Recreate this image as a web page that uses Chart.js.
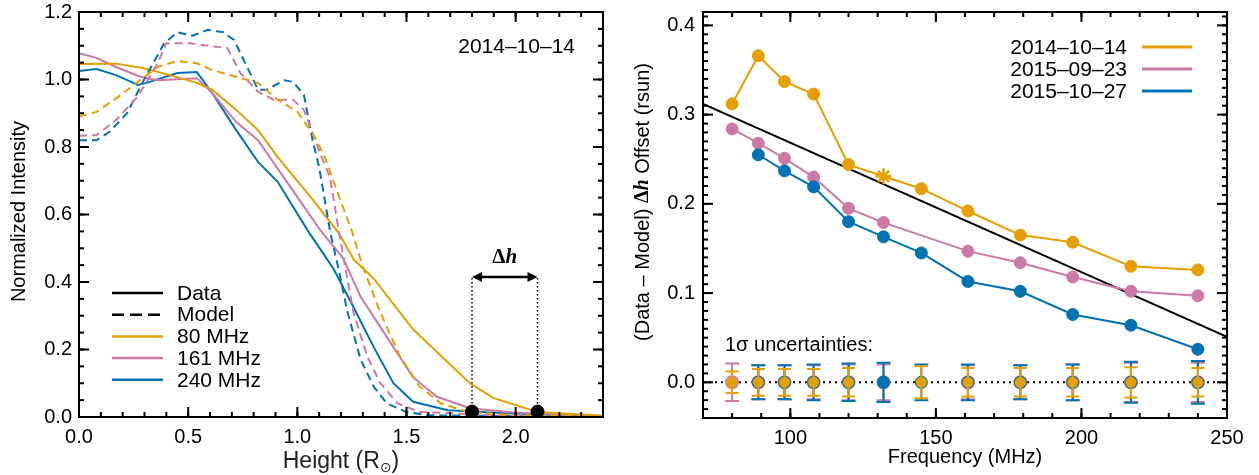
<!DOCTYPE html>
<html>
<head>
<meta charset="utf-8">
<script src="https://cdn.jsdelivr.net/npm/chart.js@4.4.1/dist/chart.umd.min.js"></script>
<style>
  body { margin: 0; background: #fff; }
  #left { position: absolute; left: 0; top: 0; }
  #right { position: absolute; left: 620px; top: 0; }
</style>
</head>
<body>
<canvas id="left" width="620" height="475"></canvas>
<canvas id="right" width="639" height="475"></canvas>
<script>
// ---- left panel: intensity profiles vs height ----
const leftXTicks = [0, 0.5, 1.0, 1.5, 2.0];
const leftYTicks = [0, 0.2, 0.4, 0.6, 0.8, 1.0, 1.2];

// observed (Data) profiles
const hData80 = [0, 0.17, 0.29, 0.40, 0.54, 0.61, 0.72, 0.82, 0.91, 1.07, 1.19, 1.26, 1.35, 1.53, 1.79, 1.90, 2.10, 2.40];
const iData80 = [1.046, 1.047, 1.034, 1.016, 0.99, 0.97, 0.91, 0.85, 0.77, 0.645, 0.545, 0.465, 0.41, 0.26, 0.10, 0.056, 0.015, 0.004];
const hData161 = [0, 0.08, 0.17, 0.28, 0.36, 0.54, 0.61, 0.72, 0.82, 1.105, 1.21, 1.29, 1.44, 1.53, 1.64, 1.79, 1.99, 2.40];
const iData161 = [1.078, 1.064, 1.037, 1.008, 0.998, 1.004, 0.96, 0.874, 0.82, 0.554, 0.47, 0.356, 0.207, 0.118, 0.06, 0.026, 0.013, 0.003];
const hData240 = [0, 0.08, 0.17, 0.27, 0.31, 0.45, 0.54, 0.61, 0.72, 0.82, 0.91, 1.05, 1.165, 1.257, 1.35, 1.44, 1.53, 1.69, 1.99, 2.40];
const iData240 = [1.025, 1.031, 1.013, 0.984, 0.99, 1.019, 1.022, 0.96, 0.85, 0.756, 0.697, 0.55, 0.44, 0.326, 0.207, 0.10, 0.045, 0.02, 0.01, 0.003];

// model profiles
const hModel80 = [0, 0.08, 0.17, 0.27, 0.36, 0.45, 0.54, 0.61, 0.72, 0.82, 0.91, 1.0, 1.07, 1.12, 1.165, 1.25, 1.30, 1.38, 1.47, 1.56, 1.66, 1.78, 2.0, 2.4];
const iModel80 = [0.89, 0.904, 0.944, 0.993, 1.037, 1.055, 1.048, 1.028, 1.008, 0.99, 0.94, 0.905, 0.84, 0.78, 0.70, 0.55, 0.445, 0.31, 0.18, 0.09, 0.04, 0.015, 0.005, 0.002];
const hModel161 = [0, 0.08, 0.17, 0.27, 0.36, 0.40, 0.50, 0.59, 0.68, 0.74, 0.82, 0.89, 0.98, 1.03, 1.105, 1.15, 1.19, 1.257, 1.32, 1.38, 1.46, 1.56, 2.0, 2.4];
const iModel161 = [0.833, 0.835, 0.88, 0.95, 1.048, 1.107, 1.108, 1.10, 1.093, 1.018, 0.964, 0.94, 0.94, 0.91, 0.78, 0.71, 0.55, 0.31, 0.18, 0.10, 0.04, 0.015, 0.003, 0.001];
const hModel240 = [0, 0.08, 0.14, 0.22, 0.29, 0.39, 0.45, 0.52, 0.59, 0.66, 0.71, 0.77, 0.82, 0.86, 0.94, 0.98, 1.03, 1.07, 1.10, 1.15, 1.19, 1.23, 1.29, 1.35, 1.41, 1.50, 1.60, 2.4];
const iModel240 = [0.82, 0.82, 0.845, 0.90, 0.99, 1.107, 1.14, 1.13, 1.147, 1.14, 1.117, 1.037, 0.97, 0.97, 0.998, 0.993, 0.955, 0.82, 0.74, 0.55, 0.435, 0.31, 0.17, 0.09, 0.04, 0.015, 0.005, 0.0];

// onset heights marking the offset (dots, dotted lines, arrow)
const onsetHeights = [1.8, 2.1];
const onsetLevel = 0.016;
const arrowLevel = 0.415;

// ---- right panel: offset vs frequency ----
const rightXTicks = [100, 150, 200, 250];
const rightYTicks = [0, 0.1, 0.2, 0.3, 0.4];
const dates = ['2014–10–14', '2015–09–23', '2015–10–27'];
const freqs = [80, 89, 98, 108, 120, 132, 145, 161, 179, 197, 217, 240];
const offset20141014 = [0.312, 0.366, 0.337, 0.323, 0.244, 0.231, 0.217, 0.192, 0.165, 0.157, 0.130, 0.126];
const offset20150923 = [0.284, 0.268, 0.251, 0.230, 0.195, 0.179, null, 0.147, 0.134, 0.118, 0.102, 0.097];
const offset20151027 = [null, 0.255, 0.237, 0.219, 0.180, 0.163, 0.145, 0.113, 0.102, 0.076, 0.064, 0.037];
const err20141014 = [0.012, 0.015, 0.015, 0.015, 0.016, null, 0.018, 0.016, 0.016, 0.016, 0.017, 0.016];
const err20150923 = [0.021, 0.019, 0.019, 0.019, 0.020, 0.020, null, 0.019, 0.019, 0.020, 0.022, 0.022];
const err20151027 = [null, 0.019, 0.019, 0.020, 0.021, 0.022, 0.020, 0.020, 0.019, 0.020, 0.023, 0.024];
const starFreq = 132; // 2014-10-14 point drawn as asterisk
const fitFreq = [70, 250];
const fitOffset = [0.312, 0.051];

const cOrange = '#E69F00', cPink = '#CC79A7', cBlue = '#0072B2';
const sans = "'Liberation Sans', Arial, Helvetica, sans-serif";
const serif = "'Liberation Serif', 'Times New Roman', serif";

function pts(xs, ys) { return xs.map((x, i) => ({ x: x, y: ys[i] })); }

function curve(xs, ys, color, dashed) {
  return { data: pts(xs, ys), showLine: true, borderColor: color, borderWidth: 2,
           borderDash: dashed ? [8, 5] : [], pointRadius: 0, tension: 0 };
}

// draws a line of text made of parts with different fonts, centred on (cx, cy)
function drawRich(ctx, parts, cx, cy) {
  let w = 0;
  parts.forEach(p => { ctx.font = p.f; w += ctx.measureText(p.t).width; });
  let x = cx - w / 2;
  parts.forEach(p => {
    ctx.font = p.f;
    ctx.fillText(p.t, x, cy + (p.dy || 0));
    x += ctx.measureText(p.t).width;
  });
}

// IDL-style box with inward ticks on all four sides
const boxTicks = {
  id: 'boxTicks',
  afterDraw(chart, args, o) {
    const { ctx, chartArea: a, scales: { x, y } } = chart;
    ctx.save();
    ctx.strokeStyle = '#000';
    ctx.lineWidth = 2;
    const seg = (x1, y1, x2, y2) => { ctx.beginPath(); ctx.moveTo(x1, y1); ctx.lineTo(x2, y2); ctx.stroke(); };
    const steps = (min, max, step) => {
      const n = Math.round((max - min) / step), out = [];
      for (let i = 0; i <= n; i++) out.push(min + i * step);
      return out;
    };
    const xt = (v, len) => { const p = x.getPixelForValue(v); seg(p, a.bottom, p, a.bottom - len); seg(p, a.top, p, a.top + len); };
    const yt = (v, len) => { const p = y.getPixelForValue(v); seg(a.left, p, a.left + len, p); seg(a.right, p, a.right - len, p); };
    steps(o.xMinorFrom, x.max, o.xMinor).forEach(v => xt(v, 5));
    steps(o.yMinorFrom, y.max, o.yMinor).forEach(v => yt(v, 5));
    x.ticks.forEach(t => xt(t.value, 10));
    y.ticks.forEach(t => yt(t.value, 10));
    ctx.strokeRect(a.left, a.top, a.width, a.height);
    ctx.restore();
  }
};

const errorBars = {
  id: 'errorBars',
  beforeDatasetDraw(chart, args) {
    const ds = chart.data.datasets[args.index];
    if (!ds.errors) return;
    const y = chart.scales.y, ctx = chart.ctx;
    ctx.save();
    ctx.strokeStyle = ds.borderColor;
    ctx.lineWidth = 2;
    args.meta.data.forEach((pt, j) => {
      const top = y.getPixelForValue(ds.errors[j]), bot = y.getPixelForValue(-ds.errors[j]);
      ctx.beginPath();
      ctx.moveTo(pt.x, top); ctx.lineTo(pt.x, bot);
      ctx.moveTo(pt.x - ds.capHalf, top); ctx.lineTo(pt.x + ds.capHalf, top);
      ctx.moveTo(pt.x - ds.capHalf, bot); ctx.lineTo(pt.x + ds.capHalf, bot);
      ctx.stroke();
    });
    ctx.restore();
  }
};

function axisOpts(min, max, tickList, digits, size, pad, horizontal) {
  return {
    type: 'linear', min: min, max: max,
    afterBuildTicks: s => { s.ticks = tickList.map(v => ({ value: v })); },
    afterFit: s => {
      if (horizontal) s.height = size; else s.width = size;
      s.paddingLeft = s.paddingRight = s.paddingTop = s.paddingBottom = 0;
    },
    grid: { display: false, drawTicks: false },
    border: { display: false },
    ticks: { padding: pad, autoSkip: false, maxRotation: 0, color: '#000',
             font: { family: sans, size: 20 }, callback: v => v.toFixed(digits) }
  };
}

// ---- left chart ----
const leftLegend = [
  { label: 'Data', color: '#000', dash: [] },
  { label: 'Model', color: '#000', dash: [12, 6] },
  { label: '80 MHz', color: cOrange, dash: [] },
  { label: '161 MHz', color: cPink, dash: [] },
  { label: '240 MHz', color: cBlue, dash: [] }
];

const leftDecor = {
  id: 'leftDecor',
  afterDraw(chart) {
    const { ctx, scales: { x, y } } = chart;
    ctx.save();
    ctx.fillStyle = '#000';
    ctx.strokeStyle = '#000';
    // dotted verticals and the offset arrow
    const x1 = x.getPixelForValue(onsetHeights[0]), x2 = x.getPixelForValue(onsetHeights[1]);
    const ya = y.getPixelForValue(arrowLevel), yd = y.getPixelForValue(onsetLevel);
    ctx.lineWidth = 1.5;
    ctx.setLineDash([1.5, 2.5]);
    [x1, x2].forEach(px => { ctx.beginPath(); ctx.moveTo(px, yd); ctx.lineTo(px, ya); ctx.stroke(); });
    ctx.setLineDash([]);
    ctx.lineWidth = 2.5;
    ctx.beginPath(); ctx.moveTo(x1 + 6, ya); ctx.lineTo(x2 - 6, ya); ctx.stroke();
    [[x1, 1], [x2, -1]].forEach(([px, d]) => {
      ctx.beginPath(); ctx.moveTo(px, ya); ctx.lineTo(px + 10 * d, ya - 5); ctx.lineTo(px + 10 * d, ya + 5); ctx.closePath(); ctx.fill();
    });
    ctx.textBaseline = 'middle';
    drawRich(ctx, [{ t: 'Δ', f: 'bold 21px ' + serif }, { t: 'h', f: 'bold italic 21px ' + serif }],
             (x1 + x2) / 2, ya - 19);
    // date
    ctx.font = '21px ' + sans;
    ctx.textAlign = 'right';
    ctx.fillText(dates[0], 575, 47);
    // legend
    ctx.textAlign = 'left';
    leftLegend.forEach((e, i) => {
      const ly = 293 + i * 21.7;
      ctx.strokeStyle = e.color;
      ctx.lineWidth = 2.5;
      ctx.setLineDash(e.dash);
      ctx.beginPath(); ctx.moveTo(112, ly); ctx.lineTo(163, ly); ctx.stroke();
      ctx.setLineDash([]);
      ctx.fillStyle = '#000';
      ctx.font = '21px ' + sans;
      ctx.fillText(e.label, 177, ly + 1);
    });
    // axis titles
    ctx.fillStyle = '#222';
    ctx.textBaseline = 'alphabetic';
    drawRich(ctx, [{ t: 'Height (R', f: '23px ' + sans },
                   { t: '⊙', f: '14px "DejaVu Sans"', dy: 4 },
                   { t: ')', f: '23px ' + sans }], (x.left + x.right) / 2, 468);
    ctx.fillStyle = '#000';
    ctx.translate(19, (y.top + y.bottom) / 2 - 3);
    ctx.rotate(-Math.PI / 2);
    ctx.textBaseline = 'middle';
    drawRich(ctx, [{ t: 'Normalized Intensity', f: '20px ' + sans }], 0, 0);
    ctx.restore();
  }
};

new Chart(document.getElementById('left'), {
  type: 'scatter',
  data: {
    datasets: [
      curve(hModel80, iModel80, cOrange, true),
      curve(hModel161, iModel161, cPink, true),
      curve(hModel240, iModel240, cBlue, true),
      curve(hData80, iData80, cOrange, false),
      curve(hData161, iData161, cPink, false),
      curve(hData240, iData240, cBlue, false),
      { data: onsetHeights.map(h => ({ x: h, y: onsetLevel })), pointRadius: 6.5,
        backgroundColor: '#000', borderColor: '#000', showLine: false, order: -1 }
    ]
  },
  options: {
    responsive: false,
    animation: false,
    layout: { padding: { top: 12, right: 17, left: 0, bottom: 0 } },
    plugins: {
      legend: { display: false },
      tooltip: { enabled: false },
      boxTicks: { xMinor: 0.1, xMinorFrom: 0, yMinor: 0.05, yMinorFrom: 0 }
    },
    scales: {
      x: axisOpts(0, 2.4, leftXTicks, 1, 58, 8, true),
      y: axisOpts(0, 1.2, leftYTicks, 1, 79, 7, false)
    }
  },
  plugins: [boxTicks, leftDecor]
});

// ---- right chart ----
function offsetSeries(vals, color, order) {
  return {
    data: pts(freqs, vals), showLine: true, spanGaps: true,
    borderColor: color, backgroundColor: color, borderWidth: 2,
    pointStyle: color === cOrange ? freqs.map(f => f === starFreq ? 'star' : 'circle') : 'circle',
    pointRadius: color === cOrange ? freqs.map(f => f === starFreq ? 8 : 6) : 6,
    pointBorderWidth: color === cOrange ? freqs.map(f => f === starFreq ? 2.5 : 1) : 1,
    order: order
  };
}

function errSeries(errs, color, r, cap, order) {
  const idx = freqs.map((f, i) => i).filter(i => errs[i] != null);
  return {
    data: idx.map(i => ({ x: freqs[i], y: 0 })), errors: idx.map(i => errs[i]), capHalf: cap,
    pointRadius: r, pointBorderWidth: 0, backgroundColor: color, borderColor: color,
    showLine: false, order: order
  };
}

const rightDecor = {
  id: 'rightDecor',
  afterDraw(chart) {
    const { ctx, scales: { x, y } } = chart;
    ctx.save();
    ctx.fillStyle = '#000';
    ctx.textBaseline = 'middle';
    // legend
    [cOrange, cPink, cBlue].forEach((c, i) => {
      const ly = 47 + i * 22;
      ctx.font = '21px ' + sans;
      ctx.textAlign = 'right';
      ctx.fillText(dates[i], 507, ly + 1);
      ctx.strokeStyle = c;
      ctx.lineWidth = 3;
      ctx.beginPath(); ctx.moveTo(522, ly); ctx.lineTo(572, ly); ctx.stroke();
    });
    ctx.textAlign = 'left';
    ctx.font = '20px ' + sans;
    ctx.fillText('1σ uncertainties:', 105, 345);
    // axis titles
    ctx.textBaseline = 'alphabetic';
    drawRich(ctx, [{ t: 'Frequency (MHz)', f: '20px ' + sans }], (x.left + x.right) / 2, 463);
    ctx.translate(23, 202);
    ctx.rotate(-Math.PI / 2);
    ctx.textBaseline = 'middle';
    drawRich(ctx, [{ t: '(Data – Model) ', f: '20px ' + sans },
                   { t: 'Δ', f: 'bold 20px ' + serif },
                   { t: 'h', f: 'bold italic 20px ' + serif },
                   { t: ' Offset (rsun)', f: '20px ' + sans }], 0, 0);
    ctx.restore();
  }
};

new Chart(document.getElementById('right'), {
  type: 'scatter',
  data: {
    datasets: [
      { data: pts(fitFreq, fitOffset), showLine: true, borderColor: '#000', borderWidth: 2, pointRadius: 0, order: 10 },
      { data: pts(fitFreq, [0, 0]), showLine: true, borderColor: '#000', borderWidth: 2, borderDash: [2, 4], pointRadius: 0, order: 9 },
      offsetSeries(offset20150923, cPink, 6),
      offsetSeries(offset20151027, cBlue, 5),
      offsetSeries(offset20141014, cOrange, 4),
      errSeries(err20150923, cPink, 7, 7, 3),
      errSeries(err20151027, cBlue, 6.5, 7, 2),
      errSeries(err20141014, cOrange, 5.5, 6.5, 1)
    ]
  },
  options: {
    responsive: false,
    animation: false,
    layout: { padding: { top: 12, right: 32, left: 0, bottom: 0 } },
    plugins: {
      legend: { display: false },
      tooltip: { enabled: false },
      boxTicks: { xMinor: 10, xMinorFrom: 70, yMinor: 0.01, yMinorFrom: -0.04 }
    },
    scales: {
      x: axisOpts(70, 250, rightXTicks, 0, 57, 8, true),
      y: axisOpts(-0.04, 0.415, rightYTicks, 1, 83, 8, false)
    }
  },
  plugins: [boxTicks, errorBars, rightDecor]
});
</script>
</body>
</html>
